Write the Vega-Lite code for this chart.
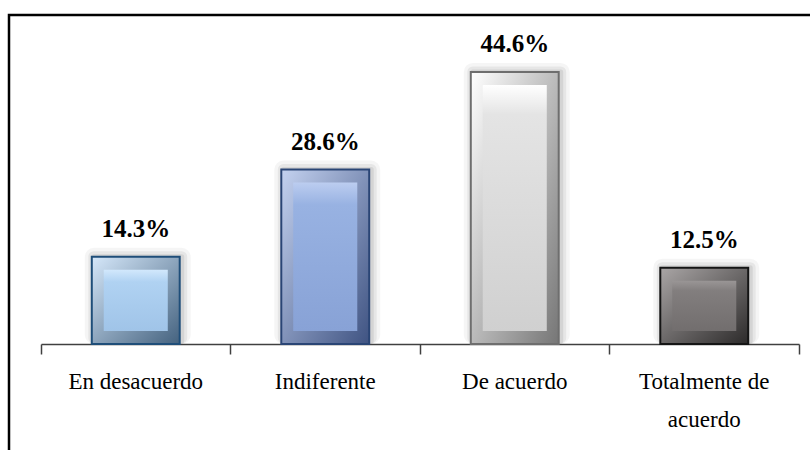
{
  "$schema": "https://vega.github.io/schema/vega-lite/v6.json",
  "autosize": {"type": "none"},
  "padding": {"left": 9, "top": 15, "right": 0, "bottom": 0},
  "width": 822,
  "height": 445,
  "background": "white",
  "config": {
    "view": {"stroke": "#000000", "strokeWidth": 2.5}
  },
  "data": {
    "values": [
      {"categoria": "En desacuerdo", "porcentaje": 0.143},
      {"categoria": "Indiferente", "porcentaje": 0.286},
      {"categoria": "De acuerdo", "porcentaje": 0.446},
      {"categoria": "Totalmente de acuerdo", "porcentaje": 0.125}
    ]
  },
  "encoding": {
    "x": {
      "field": "categoria",
      "type": "nominal",
      "sort": null,
      "scale": {"range": [32, 790], "paddingInner": 0, "paddingOuter": 0},
      "axis": {
        "title": null,
        "labelAngle": 0,
        "ticks": true,
        "bandPosition": 1,
        "tickExtra": true,
        "tickSize": 10,
        "tickWidth": 1.5,
        "domainWidth": 1.5,
        "domainColor": "#404040",
        "tickColor": "#404040",
        "labelFont": "Liberation Serif",
        "labelFontSize": 23,
        "labelColor": "#000000",
        "labelPadding": 16,
        "labelLineHeight": 38,
        "labelExpr": "datum.label == 'Totalmente de acuerdo' ? ['Totalmente de', 'acuerdo'] : datum.label",
        "offset": -116,
        "grid": false
      }
    },
    "y": {
      "field": "porcentaje",
      "type": "quantitative",
      "scale": {"domain": [-0.1902, 0.5393], "nice": false, "zero": false},
      "axis": null
    }
  },
  "layer": [
    {
      "mark": {"type": "bar", "width": {"band": 0.464}, "fill": null, "stroke": "#000000", "strokeOpacity": 0.04, "strokeWidth": 18, "y2Offset": -9, "xOffset": 2, "strokeJoin": "round"},
      "encoding": {"y2": {"datum": 0}}
    },
    {
      "mark": {"type": "bar", "width": {"band": 0.464}, "fill": null, "stroke": "#000000", "strokeOpacity": 0.06, "strokeWidth": 11, "y2Offset": -6, "xOffset": 2, "strokeJoin": "round"},
      "encoding": {"y2": {"datum": 0}}
    },
    {
      "mark": {"type": "bar", "width": {"band": 0.464}, "fill": null, "stroke": "#000000", "strokeOpacity": 0.08, "strokeWidth": 5, "y2Offset": -3, "xOffset": 2, "strokeJoin": "round"},
      "encoding": {"y2": {"datum": 0}}
    },
    {
      "mark": {"type": "bar", "width": {"band": 0.464}, "strokeWidth": 2},
      "encoding": {
        "y2": {"datum": 0},
        "fill": {
          "condition": [
            {"test": "datum.categoria === 'En desacuerdo'", "value": {"gradient": "linear", "x1": 0, "y1": 0, "x2": 1, "y2": 1, "stops": [{"offset": 0, "color": "#d6e8fa"}, {"offset": 1, "color": "#44627f"}]}},
            {"test": "datum.categoria === 'Indiferente'", "value": {"gradient": "linear", "x1": 0, "y1": 0, "x2": 1, "y2": 1, "stops": [{"offset": 0, "color": "#c4d2f0"}, {"offset": 1, "color": "#3f5382"}]}},
            {"test": "datum.categoria === 'De acuerdo'", "value": {"gradient": "linear", "x1": 0, "y1": 0, "x2": 1, "y2": 1, "stops": [{"offset": 0, "color": "#ffffff"}, {"offset": 1, "color": "#767676"}]}}
          ],
          "value": {"gradient": "linear", "x1": 0, "y1": 0, "x2": 1, "y2": 1, "stops": [{"offset": 0, "color": "#aaa6a6"}, {"offset": 1, "color": "#2c2a2a"}]}
        },
        "stroke": {
          "condition": [
            {"test": "datum.categoria === 'En desacuerdo'", "value": "#1f4e79"},
            {"test": "datum.categoria === 'Indiferente'", "value": "#2a4575"},
            {"test": "datum.categoria === 'De acuerdo'", "value": "#6e6e6e"}
          ],
          "value": "#151515"
        }
      }
    },
    {
      "mark": {"type": "bar", "width": {"band": 0.338}, "yOffset": 13, "y2Offset": -13},
      "encoding": {
        "y2": {"datum": 0},
        "fill": {
          "condition": [
            {"test": "datum.categoria === 'En desacuerdo'", "value": {"gradient": "linear", "x1": 0, "y1": 0, "x2": 0, "y2": 1, "stops": [{"offset": 0, "color": "#d2e8fc"}, {"offset": 0.2, "color": "#b0d2f2"}, {"offset": 1, "color": "#a0c4e8"}]}},
            {"test": "datum.categoria === 'Indiferente'", "value": {"gradient": "linear", "x1": 0, "y1": 0, "x2": 0, "y2": 1, "stops": [{"offset": 0, "color": "#bccdf0"}, {"offset": 0.15, "color": "#98b2e2"}, {"offset": 1, "color": "#88a2d6"}]}},
            {"test": "datum.categoria === 'De acuerdo'", "value": {"gradient": "linear", "x1": 0, "y1": 0, "x2": 0, "y2": 1, "stops": [{"offset": 0, "color": "#ffffff"}, {"offset": 0.12, "color": "#e4e4e4"}, {"offset": 1, "color": "#d0d0d0"}]}}
          ],
          "value": {"gradient": "linear", "x1": 0, "y1": 0, "x2": 0, "y2": 1, "stops": [{"offset": 0, "color": "#9a9696"}, {"offset": 0.2, "color": "#827e7e"}, {"offset": 1, "color": "#726e6e"}]}
        }
      }
    },
    {
      "mark": {"type": "text", "font": "Liberation Serif", "fontWeight": "bold", "fontSize": 25, "baseline": "alphabetic", "dy": -20, "color": "#000000"},
      "encoding": {
        "text": {"field": "porcentaje", "type": "quantitative", "format": ".1%"}
      }
    }
  ]
}
